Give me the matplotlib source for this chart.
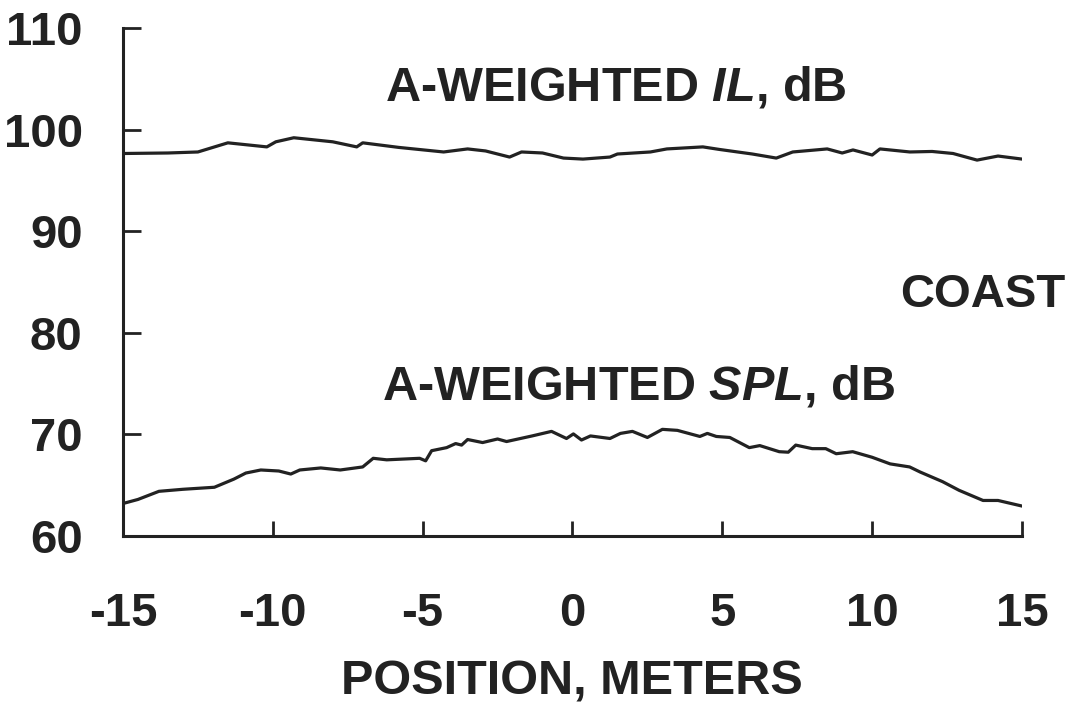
import numpy as np
import matplotlib
matplotlib.use('Agg')
import matplotlib.pyplot as plt

plt.rcParams['font.family'] = ['Liberation Sans', 'DejaVu Sans']
plt.rcParams['font.weight'] = 'bold'
plt.rcParams['mathtext.fontset'] = 'custom'
plt.rcParams['mathtext.rm'] = 'Liberation Sans:bold'
plt.rcParams['mathtext.it'] = 'Liberation Sans:italic:bold'

# A-weighted IL, dB
il_x = [-15, -13.5, -12.5, -11.5, -10.2, -9.9, -9.3, -8.0, -7.2, -7.0, -5.8,
        -4.3, -3.5, -2.9, -2.1, -1.7, -1.0, -0.3, 0.35, 1.25, 1.5, 2.6, 3.15,
        4.35, 4.9, 6.0, 6.8, 7.35, 8.5, 9.0, 9.36, 10.0, 10.26, 11.26, 12.0,
        12.7, 13.5, 14.2, 15]
il_y = [97.65, 97.7, 97.8, 98.7, 98.3, 98.8, 99.2, 98.8, 98.3, 98.7, 98.25,
        97.8, 98.1, 97.9, 97.3, 97.8, 97.7, 97.2, 97.1, 97.3, 97.6, 97.8, 98.1,
        98.3, 98.05, 97.6, 97.2, 97.8, 98.1, 97.7, 98.0, 97.5, 98.1, 97.8, 97.85,
        97.65, 97.0, 97.4, 97.1]

# A-weighted SPL, dB
spl_x = [-15, -14.5, -13.8, -13.0, -11.95, -11.3, -10.9, -10.4, -9.8, -9.4,
         -9.1, -8.4, -7.75, -7.0, -6.65, -6.2, -5.1, -4.9, -4.7, -4.2, -3.9,
         -3.7, -3.5, -3.0, -2.5, -2.2, -1.35, -0.7, -0.2, 0.03, 0.3, 0.6, 1.25,
         1.6, 2.0, 2.5, 3.0, 3.5, 4.25, 4.5, 4.8, 5.25, 5.9, 6.25, 6.9, 7.2,
         7.45, 8.0, 8.45, 8.8, 9.35, 10.0, 10.6, 11.25, 11.6, 12.35, 12.9, 13.7,
         14.2, 15]
spl_y = [63.2, 63.6, 64.4, 64.6, 64.8, 65.6, 66.2, 66.5, 66.4, 66.1, 66.5,
         66.7, 66.5, 66.8, 67.65, 67.5, 67.65, 67.4, 68.4, 68.7, 69.1, 68.95,
         69.5, 69.2, 69.55, 69.3, 69.85, 70.3, 69.6, 70.05, 69.45, 69.85, 69.6,
         70.1, 70.3, 69.7, 70.5, 70.4, 69.8, 70.1, 69.8, 69.7, 68.7, 68.9, 68.3,
         68.25, 68.95, 68.6, 68.6, 68.1, 68.3, 67.75, 67.1, 66.8, 66.3, 65.35,
         64.5, 63.5, 63.5, 62.95]

xticks = [-15, -10, -5, 0, 5, 10, 15]
yticks = [60, 70, 80, 90, 100, 110]

ink = '#222222'

fig = plt.figure(figsize=(10.75, 7.04), dpi=100)
ax = fig.add_axes([0.1144, 0.2386, 0.8363, 0.7216])

ax.plot(il_x, il_y, color=ink, linewidth=2.3)
ax.plot(spl_x, spl_y, color=ink, linewidth=2.3)

ax.set_xlim(-15, 15)
ax.set_ylim(60, 110)
ax.set_xticks(xticks)
ax.set_yticks(yticks)
ax.set_xticklabels([str(v) for v in xticks], fontsize=34, fontweight='bold', color=ink)
ax.set_yticklabels([str(v) for v in yticks], fontsize=34, fontweight='bold', color=ink)

for s in ['top', 'right']:
    ax.spines[s].set_visible(False)
for s in ['left', 'bottom']:
    ax.spines[s].set_linewidth(2.2)
    ax.spines[s].set_color(ink)

ax.tick_params(axis='x', direction='in', length=11, width=2.0, pad=40, color=ink)
ax.tick_params(axis='y', direction='in', length=13, width=2.0, pad=29, color=ink)

ax.text(1.45, 102.9, r'A-WEIGHTED $\mathit{IL}$, dB', fontsize=35, fontweight='bold',
        ha='center', va='baseline', color=ink)
ax.text(2.2, 73.4, r'A-WEIGHTED $\mathit{SPL}$, dB', fontsize=35, fontweight='bold',
        ha='center', va='baseline', color=ink)
ax.text(13.68, 82.5, 'COAST', fontsize=34, fontweight='bold',
        ha='center', va='baseline', color=ink)

fig.text(0.532, 0.0128, 'POSITION, METERS', fontsize=35, fontweight='bold',
         ha='center', va='baseline', color=ink)

fig.savefig('out.png', dpi=100)
